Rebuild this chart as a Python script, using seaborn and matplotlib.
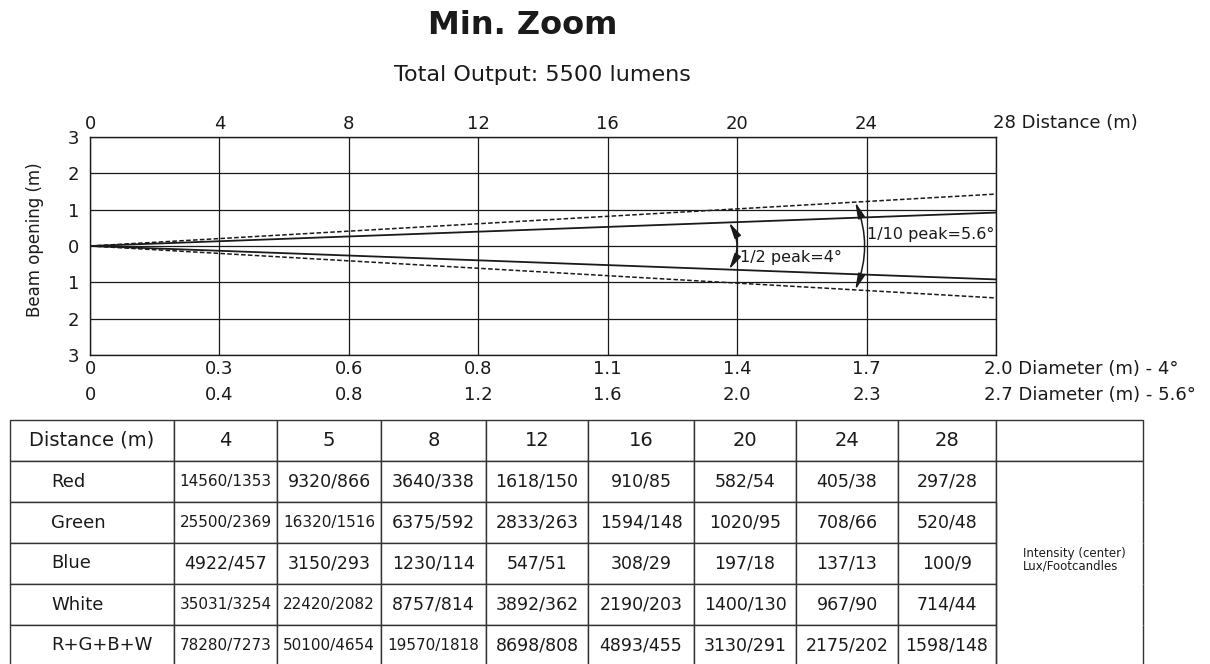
import numpy as np
import pandas as pd
import matplotlib
matplotlib.use("Agg")
import matplotlib.pyplot as plt
import seaborn as sns
from matplotlib.patches import FancyArrowPatch

# Beam diagram data
distance_ticks = [0, 4, 8, 12, 16, 20, 24, 28]
diam_4deg = ["0", "0.3", "0.6", "0.8", "1.1", "1.4", "1.7", "2.0"]
diam_56deg = ["0", "0.4", "0.8", "1.2", "1.6", "2.0", "2.3", "2.7"]
opening_ticks = [-3, -2, -1, 0, 1, 2, 3]

beam_distance = [0, 28]
half_peak_edge = [0, 0.92]    # half opening (m) of the 1/2 peak beam, as drawn
tenth_peak_edge = [0, 1.43]   # half opening (m) of the 1/10 peak beam, as drawn

# Intensity table data (lux / footcandles)
table_distances = [4, 5, 8, 12, 16, 20, 24, 28]
color_names = ["Red", "Green", "Blue", "White", "R+G+B+W"]
red_lux = [14560, 9320, 3640, 1618, 910, 582, 405, 297]
red_fc = [1353, 866, 338, 150, 85, 54, 38, 28]
green_lux = [25500, 16320, 6375, 2833, 1594, 1020, 708, 520]
green_fc = [2369, 1516, 592, 263, 148, 95, 66, 48]
blue_lux = [4922, 3150, 1230, 547, 308, 197, 137, 100]
blue_fc = [457, 293, 114, 51, 29, 18, 13, 9]
white_lux = [35031, 22420, 8757, 3892, 2190, 1400, 967, 714]
white_fc = [3254, 2082, 814, 362, 203, 130, 90, 44]
rgbw_lux = [78280, 50100, 19570, 8698, 4893, 3130, 2175, 1598]
rgbw_fc = [7273, 4654, 1818, 808, 455, 291, 202, 148]

sns.set_style("white")
plt.rcParams["font.family"] = ["DejaVu Sans"]
INK = "#1a1a1a"

W, H = 1210, 664
fig = plt.figure(figsize=(W / 100, H / 100), dpi=100)

# titles
fig.text(523 / W, 1 - 25 / H, "Min. Zoom", ha="center", va="center",
         fontsize=23, fontweight="bold", color=INK)
fig.text(542 / W, 1 - 75 / H, "Total Output: 5500 lumens", ha="center", va="center",
         fontsize=16, color=INK)

# --- beam diagram ---
ax = fig.add_axes([90 / W, 1 - 355 / H, 906 / W, 218 / H])
ax.set_xlim(0, 28)
ax.set_ylim(-3, 3)
ax.set_xticks(distance_ticks)
ax.set_yticks(opening_ticks)
ax.set_xticklabels([str(d) if d != 28 else "" for d in distance_ticks])
ax.set_yticklabels([str(abs(v)) for v in opening_ticks])
ax.tick_params(axis="x", top=True, labeltop=True, bottom=False, labelbottom=False,
               length=0, pad=3, labelsize=13, colors=INK)
ax.tick_params(axis="y", length=0, pad=8, labelsize=13, colors=INK)
ax.grid(True, color=INK, lw=0.9)
for s in ax.spines.values():
    s.set_visible(True)
    s.set_color(INK)
    s.set_linewidth(1.0)

beams = pd.DataFrame({
    "distance": beam_distance * 4,
    "opening": half_peak_edge + [-v for v in half_peak_edge]
               + tenth_peak_edge + [-v for v in tenth_peak_edge],
    "edge": ["h+"] * 2 + ["h-"] * 2 + ["t+"] * 2 + ["t-"] * 2,
})
for edge, grp in beams.groupby("edge"):
    dashed = edge.startswith("t")
    sns.lineplot(data=grp, x="distance", y="opening", ax=ax, color=INK,
                 lw=1.1 if dashed else 1.3, linestyle=(0, (3, 1.5)) if dashed else "-",
                 legend=False)
ax.set_xlabel("")
ax.set_ylabel("")

# angle arcs with arrows
half_slope = half_peak_edge[1] / beam_distance[1]
tenth_slope = tenth_peak_edge[1] / beam_distance[1]
for xa, slope, rad in [(19.75, half_slope, -0.3), (23.65, tenth_slope, -0.2)]:
    arc = FancyArrowPatch((xa, slope * xa), (xa, -slope * xa),
                          connectionstyle=f"arc3,rad={rad}",
                          arrowstyle="<|-|>,head_length=0.8,head_width=0.18",
                          mutation_scale=12, color=INK, lw=1.1,
                          shrinkA=0, shrinkB=0)
    ax.add_patch(arc)
ax.text(20.1, -0.33, "1/2 peak=4°", ha="left", va="center", fontsize=11.5, color=INK)
ax.text(24.0, 0.33, "1/10 peak=5.6°", ha="left", va="center", fontsize=11.5,
        color=INK, clip_on=False)

fig.text(35 / W, 1 - 240 / H, "Beam opening (m)", rotation=90, ha="center",
         va="center", fontsize=12, color=INK)

# top-right axis title
ax.annotate("28 Distance (m)", xy=(28, 1), xycoords=("data", "axes fraction"),
            xytext=(-3, 14), textcoords="offset pixels", ha="left", va="center",
            fontsize=13, color=INK, annotation_clip=False)

# bottom diameter rows
for i, d in enumerate(distance_ticks):
    if d == distance_ticks[-1]:
        continue
    for lab, off in [(diam_4deg[i], -14), (diam_56deg[i], -40)]:
        ax.annotate(lab, xy=(d, 0), xycoords=("data", "axes fraction"),
                    xytext=(0, off), textcoords="offset pixels", ha="center",
                    va="center", fontsize=13, color=INK, annotation_clip=False)
for lab, off in [(diam_4deg[-1] + " Diameter (m) - 4°", -14),
                 (diam_56deg[-1] + " Diameter (m) - 5.6°", -40)]:
    ax.annotate(lab, xy=(28, 0), xycoords=("data", "axes fraction"),
                xytext=(-12, off), textcoords="offset pixels", ha="left",
                va="center", fontsize=13, color=INK, annotation_clip=False)

# --- intensity table ---
ax_t = fig.add_axes([0, 0, 1, 1])
ax_t.axis("off")
ax_t.set_xlim(0, 1)
ax_t.set_ylim(0, 1)

lux_rows = [red_lux, green_lux, blue_lux, white_lux, rgbw_lux]
fc_rows = [red_fc, green_fc, blue_fc, white_fc, rgbw_fc]
cell_text = [["Distance (m)"] + [str(d) for d in table_distances] + [""]]
for name, lux, fc in zip(color_names, lux_rows, fc_rows):
    cell_text.append([name] + [f"{a}/{b}" for a, b in zip(lux, fc)] + [""])

col_bounds = [10, 174, 277, 381, 486, 588, 694, 796, 898, 996, 1143]
col_widths = list(np.diff(col_bounds) / W)
tbl = ax_t.table(cellText=cell_text, colWidths=col_widths, cellLoc="center",
                 bbox=[10 / W, -2 / H, (1143 - 10) / W, 246 / H])
tbl.auto_set_font_size(False)
n_rows = len(cell_text)
n_cols = len(cell_text[0])
for (r, c), cell in tbl.get_celld().items():
    cell.set_edgecolor("#333333")
    cell.set_linewidth(1.0)
    txt = cell.get_text()
    txt.set_color(INK)
    if r == 0:
        txt.set_fontsize(14)
    elif c == 0:
        txt.set_fontsize(13)
        txt.set_horizontalalignment("left")
        cell.PAD = 0.25
    else:
        txt.set_fontsize(11 if len(txt.get_text()) >= 10 else 12.5)
    if c == n_cols - 1 and r > 0:
        if r == 1:
            cell.visible_edges = "LRT"
        elif r == n_rows - 1:
            cell.visible_edges = "LRB"
        else:
            cell.visible_edges = "LR"

ax_t.text(1023 / W, 1 - 560 / H, "Intensity (center)\nLux/Footcandles",
          ha="left", va="center", fontsize=8.5, color=INK, linespacing=0.95)

fig.savefig("out.png", dpi=100)
